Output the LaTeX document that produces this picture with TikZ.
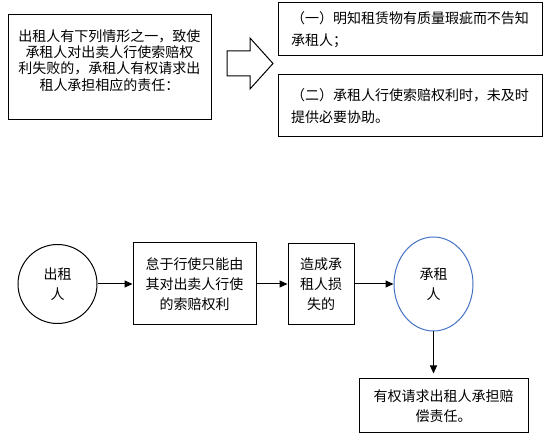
\documentclass[tikz,border=0pt]{standalone}
\usepackage{fontspec}
\setmainfont{Noto Sans CJK SC}
\usetikzlibrary{arrows, arrows.meta, shapes.geometric}
\definecolor{lesseeblue}{HTML}{4472C4}

\begin{document}
\begin{tikzpicture}[x=1pt, y=-1pt, >={Triangle[length=8pt,width=7pt]}, line width=1pt,
    box/.style={draw, rectangle, inner sep=0pt, align=center, font=\fontsize{14pt}{20pt}\selectfont},
    itembox/.style={draw, rectangle, inner xsep=13pt, inner ysep=0pt, text width=238pt, align=left, minimum height=#1, font=\fontsize{14pt}{21.7pt}\selectfont},
    party/.style={draw, ellipse, inner sep=0pt, align=center, font=\fontsize{14pt}{20pt}\selectfont}]

    \useasboundingbox (0,0) rectangle (550,441);

    % top part
    \node[box, minimum width=203pt, minimum height=105pt] (cause) at (109.5,67.5) {};
    \node[align=center, font=\fontsize{14pt}{16.3pt}\selectfont] (causetxt) at (109.5,60.5)
        {出租人有下列情形之一，致使\\承租人对出卖人行使索赔权\\利失败的，承租人有权请求出\\租人承担相应的责任：};
    \node[itembox=53pt] (item1) at (410,29.5) {（一）明知租赁物有质量瑕疵而不告知\\承租人；};
    \node[itembox=62pt] (item2) at (410,106) {（二）承租人行使索赔权利时，未及时\\提供必要协助。};
    \draw (227,51) -- (250,51) -- (250,38) -- (273,63.5) -- (250,89) -- (250,76) -- (227,76) -- cycle;

    % bottom part
    \node[party, minimum width=79pt, minimum height=79pt] (lessor) at (57.5,284) {出租\\人};
    \node[box, minimum width=123pt, minimum height=82pt] (fail) [right of=lessor, node distance=137pt] {怠于行使只能由\\其对出卖人行使\\的索赔权利};
    \node[box, minimum width=66pt, minimum height=81pt] (loss) [right of=fail, node distance=126.5pt] {造成承\\租人损\\失的};
    \node[party, draw=lesseeblue, minimum width=79pt, minimum height=94pt] (lessee) [right of=loss, node distance=112.5pt] {承租\\人};
    \node[box, minimum width=169pt, minimum height=54pt] (claim) at (443.5,406) {有权请求出租人承担赔\\偿责任。};

    \path[->]
    (lessor) edge (fail)
    (fail) edge (loss)
    (loss) edge (lessee)
    (lessee) edge [shorten >=5pt] (lessee.south |- claim.north)
    ;
\end{tikzpicture}
\end{document}
